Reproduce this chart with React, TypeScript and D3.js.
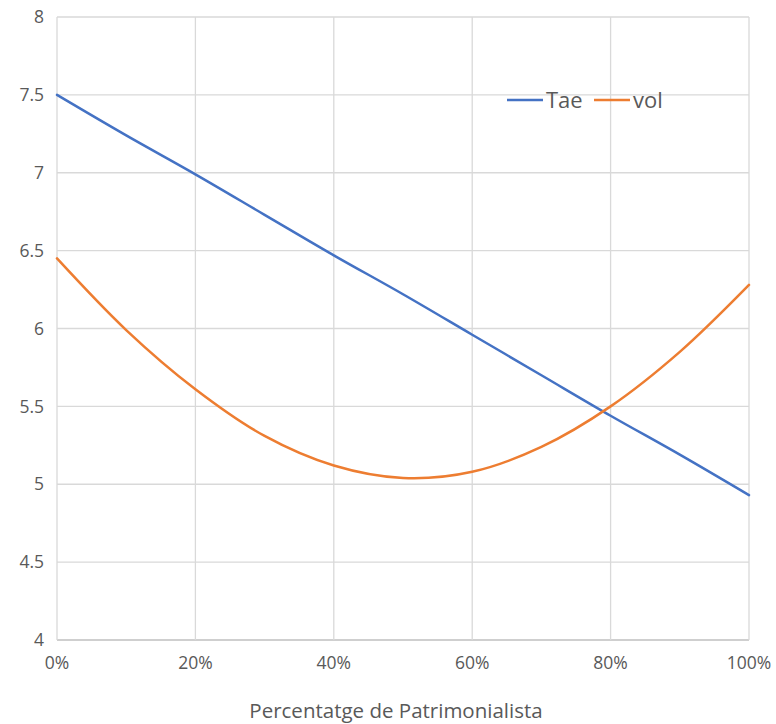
import React from "react";
import * as d3 from "d3";

const xValues = [0, 0.1, 0.2, 0.3, 0.4, 0.5, 0.6, 0.7, 0.8, 0.9, 1.0];
const taeValues = [7.5, 7.24, 6.99, 6.73, 6.47, 6.22, 5.96, 5.7, 5.44, 5.19, 4.93];
const volValues = [6.45, 5.99, 5.61, 5.31, 5.12, 5.04, 5.08, 5.24, 5.5, 5.85, 6.28];
const xTicks = [0, 0.2, 0.4, 0.6, 0.8, 1.0];
const yTicks = [4, 4.5, 5, 5.5, 6, 6.5, 7, 7.5, 8];
const seriesNames = ["Tae", "vol"];
const xTitle = "Percentatge de Patrimonialista";

const W = 776;
const H = 724;
const left = 57;
const right = 749;
const top = 17;
const bottom = 640;
const FONT = "'Open Sans', 'Noto Sans', sans-serif";
const TEXT = "#595959";
const GRID = "#d9d9d9";
const BLUE = "#4472C4";
const ORANGE = "#ED7D31";

export default function App() {
  const x = d3.scaleLinear().domain([0, 1]).range([left, right]);
  const y = d3.scaleLinear().domain([4, 8]).range([bottom, top]);
  const line = d3
    .line<number>()
    .x((_, i) => x(xValues[i]))
    .y((d) => y(d))
    .curve(d3.curveCatmullRom.alpha(0.5));
  const fmtY = (v: number) => (Number.isInteger(v) ? String(v) : v.toFixed(1));
  const fmtX = d3.format(".0%");

  return (
    <svg
      width={W}
      height={H}
      style={{ position: "absolute", left: 0, top: 0, background: "#fff" }}
      fontFamily={FONT}
    >
      {yTicks.map((t) => (
        <g key={"y" + t}>
          <line x1={left} x2={right} y1={y(t)} y2={y(t)} stroke={t === 4 ? "#bfbfbf" : GRID} strokeWidth={1.3} />
          <text x={44} y={y(t)} dy="0.35em" textAnchor="end" fontSize={17.5} fill={TEXT} textLength={undefined}>
            {fmtY(t)}
          </text>
        </g>
      ))}
      {xTicks.map((t) => (
        <g key={"x" + t}>
          <line x1={x(t)} x2={x(t)} y1={top} y2={bottom} stroke={GRID} strokeWidth={1.3} />
          <text x={x(t)} y={663} dy="0.35em" textAnchor="middle" fontSize={17.5} fill={TEXT}>
            {fmtX(t)}
          </text>
        </g>
      ))}
      <path d={line(taeValues) || ""} fill="none" stroke={BLUE} strokeWidth={2.5} strokeLinecap="round" />
      <path d={line(volValues) || ""} fill="none" stroke={ORANGE} strokeWidth={2.5} strokeLinecap="round" />
      <g>
        <line x1={507} x2={543} y1={100} y2={100} stroke={BLUE} strokeWidth={2.5} />
        <text x={546} y={100} dy="0.35em" fontSize={22} fill={TEXT}>
          {seriesNames[0]}
        </text>
        <line x1={594} x2={630} y1={100} y2={100} stroke={ORANGE} strokeWidth={2.5} />
        <text x={633} y={100} dy="0.35em" fontSize={22} fill={TEXT}>
          {seriesNames[1]}
        </text>
      </g>
      <text x={396} y={711} dy="0.35em" textAnchor="middle" fontSize={20.5} fill={TEXT}>
        {xTitle}
      </text>
    </svg>
  );
}
